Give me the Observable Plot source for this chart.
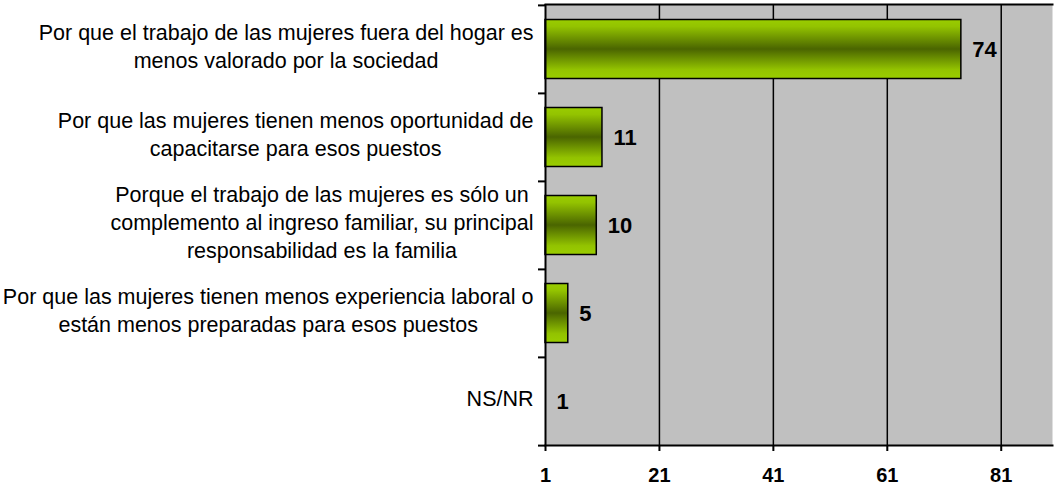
<!DOCTYPE html>
<html>
<head>
<meta charset="utf-8">
<script src="https://cdn.jsdelivr.net/npm/d3@7"></script>
<script src="https://cdn.jsdelivr.net/npm/@observablehq/plot@0.6"></script>
<style>
  html, body { margin: 0; padding: 0; background: #ffffff; }
  #chart svg { display: block; }
</style>
</head>
<body>
<div id="chart"></div>
<script>
const categories = [
  "Por que el trabajo de las mujeres fuera del hogar es\nmenos valorado por la sociedad",
  "Por que las mujeres tienen menos oportunidad de\ncapacitarse para esos puestos",
  "Porque el trabajo de las mujeres es sólo un\ncomplemento al ingreso familiar, su principal\nresponsabilidad es la familia",
  "Por que las mujeres tienen menos experiencia laboral o\nestán menos preparadas para esos puestos",
  "NS/NR"
];
const values = [74, 11, 10, 5, 1];
const xTicks = [1, 21, 41, 61, 81];
const xDomain = [1, 90];

const data = categories.map((c, i) => ({cat: c, value: values[i]}));

const W = 1057, H = 489;
const mTop = 4, mBottom = 44, mLeft = 545, mRight = 5;
const bw = (H - mTop - mBottom) / categories.length;
const FONT = "'Liberation Sans', Arial, sans-serif";
const LABEL_SIZE = 21.5;

const ctx = document.createElement("canvas").getContext("2d");
ctx.font = LABEL_SIZE + "px " + FONT;
function maxWidth(s) { return d3.max(s.split("\n"), l => ctx.measureText(l).width); }

const labelMarks = categories.map(c => Plot.text([c], {
  x: xDomain[0], y: d => d, text: d => d,
  textAnchor: "middle", lineAnchor: "middle", lineHeight: 28 / LABEL_SIZE,
  fontSize: LABEL_SIZE, fill: "#000",
  dx: -(12 + maxWidth(c) / 2), dy: -4
}));

const plot = Plot.plot({
  width: W, height: H,
  marginTop: mTop, marginBottom: mBottom, marginLeft: mLeft, marginRight: mRight,
  style: {fontFamily: FONT, background: "#ffffff", color: "#000", overflow: "visible"},
  x: {domain: xDomain, axis: null, label: null},
  y: {domain: categories, padding: 0, axis: null, label: null},
  marks: [
    Plot.frame({fill: "#c0c0c0", stroke: null}),
    Plot.ruleX(xTicks.slice(1), {stroke: "#000", strokeWidth: 1.5}),
    Plot.barX(data, {x1: xDomain[0], x2: "value", y: "cat", insetTop: 14.5, insetBottom: 14.5,
      fill: "url(#barGrad)", stroke: "#000", strokeWidth: 1.5}),
    Plot.ruleX([xDomain[0]], {stroke: "#000", strokeWidth: 2}),
    Plot.frame({anchor: "top", stroke: "#000", strokeWidth: 2}),
    Plot.frame({anchor: "bottom", stroke: "#000", strokeWidth: 2}),
    Plot.axisY({tickSize: 7, tickFormat: () => "", label: null, dy: -bw / 2, strokeWidth: 2}),
    Plot.axisY({ticks: [categories[categories.length - 1]], tickSize: 7, tickFormat: () => "", label: null, dy: bw / 2, strokeWidth: 2}),
    Plot.axisX({ticks: xTicks, tickSize: 6, tickPadding: 16, fontSize: 20, fontWeight: "bold", label: null,
      strokeWidth: 2, tickFormat: d => String(d)}),
    Plot.text(data, {x: "value", y: "cat", text: d => String(d.value), dx: 11, textAnchor: "start",
      fontSize: 22, fontWeight: "bold", fill: "#000"}),
    ...labelMarks
  ]
});

d3.select(plot).insert("defs", ":first-child").html(`
  <linearGradient id="barGrad" x1="0" y1="0" x2="0" y2="1">
    <stop offset="0" stop-color="#9acd00"/>
    <stop offset="0.12" stop-color="#93c300"/>
    <stop offset="0.5" stop-color="#4a6500"/>
    <stop offset="0.85" stop-color="#93c300"/>
    <stop offset="1" stop-color="#9acd00"/>
  </linearGradient>`);

document.getElementById("chart").appendChild(plot);
</script>
</body>
</html>
